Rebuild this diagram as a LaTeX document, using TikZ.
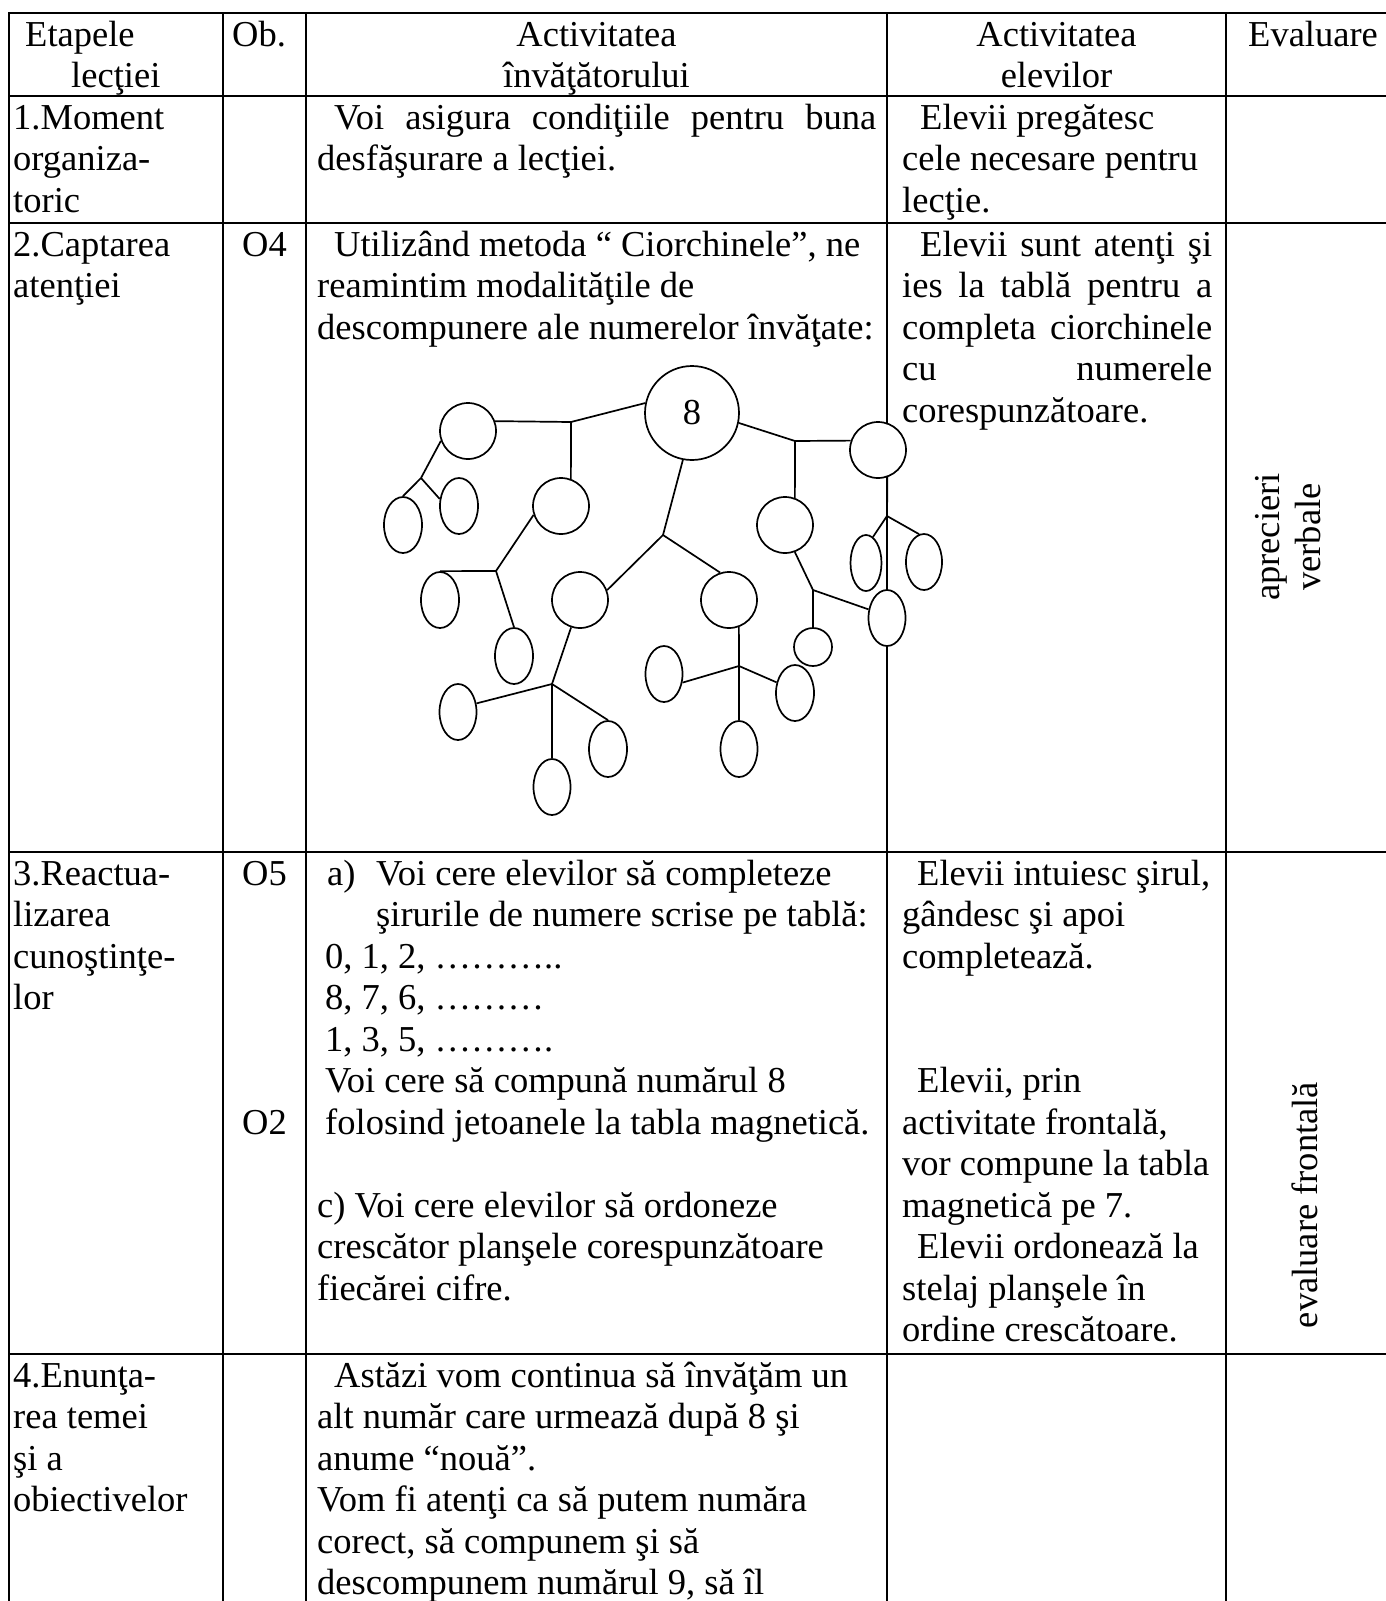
\documentclass[tikz,border=0pt]{standalone}
\usepackage{fontspec}
\setmainfont{Liberation Serif}
\usetikzlibrary{shapes.geometric}

\begin{document}
\begin{tikzpicture}[x=1pt,y=-1pt,
    font=\fontsize{36.5}{41.5}\selectfont,
    every node/.append style={execute at begin node={\spaceskip=0pt\relax\xspaceskip=0pt\relax}},
    grid/.style={line width=2pt,line cap=rect},
    cell/.style={anchor=base west,inner sep=0pt,align=left,text width=#1},
    head/.style={anchor=base,inner sep=0pt,align=center,text width=#1},
    bub/.style={draw,circle,fill=white,line width=1.7pt,inner sep=0pt,minimum size=#1},
    egg/.style={draw,ellipse,fill=white,line width=1.7pt,inner sep=0pt,minimum width=#1,minimum height=56pt},
    link/.style={line width=1.7pt}]
\useasboundingbox (0,0) rectangle (1385,1601);

\foreach \y in {12.7,96,223,852,1354}
  \draw[grid] (9,\y) -- (1385,\y);
\foreach \x in {9,223,306,887,1226}
  \draw[grid] (\x,12.7) -- (\x,1601);

\node[cell=210pt] (h1) at (25,46) {Etapele\\\hspace*{46pt}lecţiei};
\node[cell=80pt] (h2) at (232,46) {Ob.};
\node[head=560pt] (h3) at (596.5,46) {Activitatea\\învăţătorului};
\node[head=330pt] (h4) at (1056.5,46) {Activitatea\\elevilor};
\node[cell=150pt] (h5) at (1248,46) {Evaluare};

\node[cell=210pt] (s1) at (13,129) {1.Moment\\organiza-\\toric};
\node[cell=210pt] (s2) at (13,256) {2.Captarea\\atenţiei};
\node[cell=210pt] (s3) at (13,885) {3.Reactua-\\lizarea\\cunoştinţe-\\lor};
\node[cell=210pt] (s4) at (13,1387) {4.Enunţa-\\rea temei\\şi a\\obiectivelor};

\node[anchor=base,inner sep=0pt] (o4) at (264.5,256) {O4};
\node[anchor=base,inner sep=0pt] (o5) at (264.5,885) {O5};
\node[anchor=base,inner sep=0pt] (o2) at (264.5,1134) {O2};

\node[cell=580pt] (t1) at (317,129) {\hspace*{17pt}\makebox[542pt][s]{Voi asigura condiţiile pentru buna}\\desfăşurare a lecţiei.};
\node[cell=580pt] (t2) at (317,256) {\hspace*{17pt}Utilizând metoda “ Ciorchinele”, ne\\reamintim modalităţile de\\descompunere ale numerelor învăţate:};
\node[cell=580pt] (t3) at (317,885) {\hspace*{10pt}\makebox[49pt][l]{a)}Voi cere elevilor să completeze\\\hspace*{59pt}şirurile de numere scrise pe tablă:\\\hspace*{8pt}0, 1, 2, ………..\\\hspace*{8pt}8, 7, 6, ………\\\hspace*{8pt}1, 3, 5, ……….\\\hspace*{8pt}Voi cere să compună numărul 8\\\hspace*{8pt}folosind jetoanele la tabla magnetică.\\[41.5pt]c) Voi cere elevilor să ordoneze\\crescător planşele corespunzătoare\\fiecărei cifre.};
\node[cell=580pt] (t4) at (317,1387) {\hspace*{17pt}Astăzi vom continua să învăţăm un\\alt număr care urmează după 8 şi\\anume “nouă”.\\Vom fi atenţi ca să putem număra\\corect, să compunem şi să\\descompunem numărul 9, să îl};

\node[cell=330pt] (a1) at (902,129) {\hspace*{18pt}Elevii pregătesc\\cele necesare pentru\\lecţie.};
\node[cell=330pt] (a2) at (902,256) {\hspace*{18pt}\makebox[292pt][s]{Elevii sunt atenţi şi}\\\makebox[310pt][s]{ies la tablă pentru a}\\\makebox[310pt][s]{completa ciorchinele}\\\makebox[310pt][s]{cu numerele}\\corespunzătoare.};
\node[cell=330pt] (a3) at (902,885) {\hspace*{15pt}Elevii intuiesc şirul,\\gândesc şi apoi\\completează.\\[83pt]\hspace*{15pt}Elevii, prin\\activitate frontală,\\vor compune la tabla\\magnetică pe 7.\\\hspace*{15pt}Elevii ordonează la\\stelaj planşele în\\ordine crescătoare.};

\node[rotate=90,align=center,inner sep=0pt] (v1) at (1288,537) {aprecieri\\verbale};
\node[rotate=90,inner sep=0pt] (v2) at (1305,1205) {evaluare frontală};

\node[bub=94pt] (n8) at (692,413) {8};
\node[bub=56pt] (ca) at (468,431) {};
\node[bub=56pt] (cb) at (561,506) {};
\node[bub=56pt] (cc) at (580,600) {};
\node[bub=56pt] (cd) at (729,600) {};
\node[bub=56pt] (cf) at (878,450) {};
\node[bub=56pt] (cg) at (785,525) {};
\node[bub=38pt] (cs) at (813,647) {};
\node[egg=38pt] (ea1) at (403,525) {};
\node[egg=38pt] (ea2) at (459,506) {};
\node[egg=38pt] (eb1) at (440,600) {};
\node[egg=38pt] (eb2) at (514,656) {};
\node[egg=37pt] (ec1) at (458,712) {};
\node[egg=37pt] (ec2) at (552,787) {};
\node[egg=38pt] (ec3) at (608,749) {};
\node[egg=37pt] (ed1) at (664,674) {};
\node[egg=37pt] (ed2) at (739,749) {};
\node[egg=38pt] (ed3) at (795,693) {};
\node[egg=37pt] (eg2) at (887,618) {};
\node[egg=31pt] (ef1) at (866,563) {};
\node[egg=36pt] (ef2) at (924,562) {};

\coordinate (j1) at (571,422);
\coordinate (j2) at (421,478);
\coordinate (j3) at (663,535);
\coordinate (j4) at (496,571);
\coordinate (j5) at (552,684);
\coordinate (j6) at (739,666);
\coordinate (j7) at (795,441);
\coordinate (j8) at (813,590);
\coordinate (j9) at (887,516);

\draw[link] (ca.20) -- (j1) -- (n8.168);
\draw[link] (j1) -- (cb.70);
\draw[link] (ca.200) -- (j2);
\draw[link] (j2) -- (ea1.north);
\draw[link] (j2) -- (ea2.160);
\draw[link] (n8.259) -- (j3);
\draw[link] (j3) -- (cc.20);
\draw[link] (j3) -- (cd.108);
\draw[link] (cb.198) -- (j4);
\draw[link] (j4) -- (eb1.north);
\draw[link] (j4) -- (eb2.north);
\draw[link] (cc.252) -- (j5);
\draw[link] (j5) -- (ec1.25);
\draw[link] (j5) -- (ec2.north);
\draw[link] (j5) -- (ec3.north);
\draw[link] (cd.290) -- (j6);
\draw[link] (j6) -- (ed1.-25);
\draw[link] (j6) -- (ed2.north);
\draw[link] (j6) -- (ed3.150);
\draw[link] (n8.-12) -- (j7);
\draw[link] (j7) -- (cf.161);
\draw[link] (j7) -- (cg.70);
\draw[link] (cg.290) -- (j8);
\draw[link] (j8) -- (cs.north);
\draw[link] (j8) -- (eg2.155);
\draw[link] (cf.289) -- (j9);
\draw[link] (j9) -- (ef1.75);
\draw[link] (j9) -- (ef2.100);
\draw[link] (j9) -- (eg2.north);
\end{tikzpicture}
\end{document}
